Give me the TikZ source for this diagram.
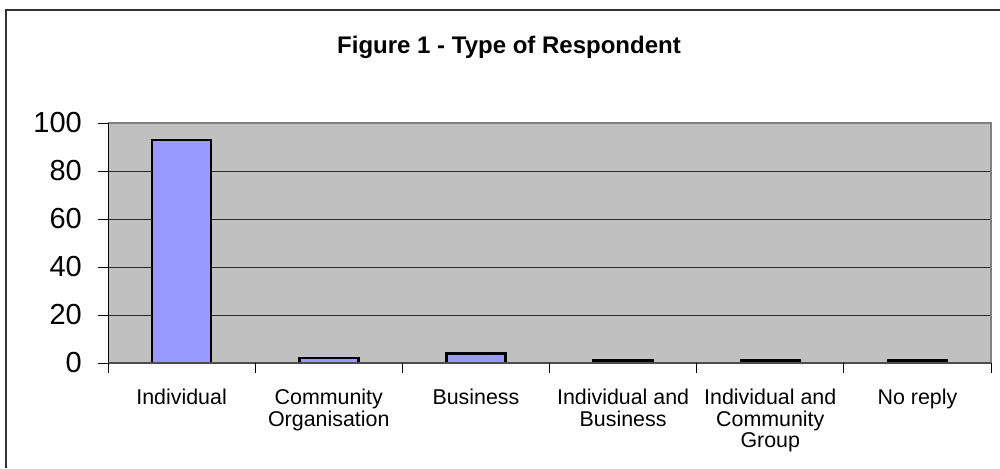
\documentclass[tikz,border=0pt]{standalone}
\usepackage{fontspec}
\setmainfont{Liberation Sans}
\usetikzlibrary{positioning}

\definecolor{plotgray}{HTML}{C0C0C0}
\definecolor{barblue}{HTML}{9999FF}
\definecolor{framegray}{HTML}{808080}

\begin{document}
\begin{tikzpicture}[x=1pt,y=-1pt,
  bar/.style={draw=black,line width=2.5pt,fill=barblue},
  gridline/.style={black!85,line width=1pt},
  catlabel/.style={anchor=north,align=center,inner sep=0pt,font=\fontsize{21.4}{21.5}\selectfont},
  ylabel/.style={anchor=east,inner sep=0pt,font=\fontsize{29}{30}\selectfont}]

\useasboundingbox (0,0) rectangle (1000,468);

% outer frame (cut at right and bottom)
\draw[line width=2pt,black!80] (6,468) |- (1000,10);

\node[font=\bfseries\fontsize{24}{26}\selectfont] (title) at (509,47) {Figure 1 - Type of Respondent};

% plot area
\fill[plotgray] (108,123) rectangle (991,363);
\foreach \v in {20,40,60,80}
{
\draw[gridline] (108,{363-2.4*\v}) -- (991,{363-2.4*\v});
}
\draw[framegray,line width=2pt] (108,123) -- (991,123) -- (991,363);

% y axis
\draw[line width=1pt] (108,123) -- (108,363);
\foreach \v in {0,20,...,100}
{
\draw[line width=1pt] (98,{363-2.4*\v}) -- (108,{363-2.4*\v});
\node[ylabel] (yl\v) at (82,{363-2.4*\v}) {\v};
}

% bars and categories
\foreach \i/\val/\lab in {1/93/{Individual},2/2/{Community\\Organisation},3/4/{Business},
  4/1/{Individual and\\Business},5/1/{Individual and\\Community\\Group},6/1/{No reply}}
{
\draw[bar] ({108+147.17*(\i-0.5)-29.5},363) rectangle ({108+147.17*(\i-0.5)+29.5},{363-2.4*\val});
\node[catlabel] (cat\i) at ({108+147.17*(\i-0.5)},389) {\lab};
}

% x axis
\draw[framegray!60!black,line width=1.2pt] (108,363) -- (991,363);
\foreach \k in {0,...,6}
{
\draw[line width=1pt] ({108+147.17*\k},363) -- ({108+147.17*\k},373);
}
\end{tikzpicture}
\end{document}
